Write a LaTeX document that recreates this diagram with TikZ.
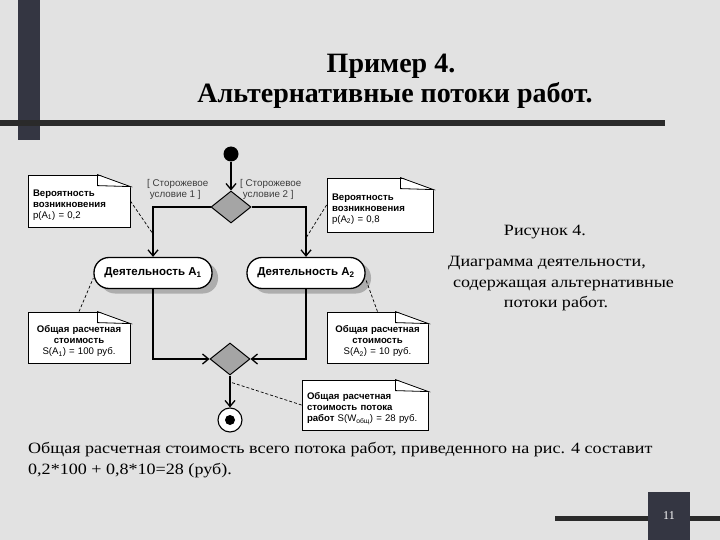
\documentclass[tikz,border=0pt]{standalone}
\usepackage{fontspec}
\setmainfont{Liberation Serif}
\newfontfamily\diagfont{Liberation Sans}
\newfontfamily\bodyfont[FakeStretch=1.15]{Liberation Serif}
\usetikzlibrary{arrows.meta,shapes.geometric,shadows,positioning}
\definecolor{slidebg}{RGB}{226,226,226}
\definecolor{bardark}{RGB}{52,54,66}
\definecolor{linedark}{RGB}{42,42,42}
\definecolor{guardgray}{RGB}{60,60,60}
\definecolor{choicegray}{RGB}{165,165,165}
\newcommand\memogap{\rule{0pt}{14pt}}
\newcommand\dogear[1]{%
  \fill[slidebg] ([xshift=-34pt,yshift=1pt]#1.north east) -- ([xshift=1pt,yshift=1pt]#1.north east)
    -- ([xshift=1pt,yshift=-13pt]#1.north east) -- cycle;
  \draw[line width=0.8pt] ([xshift=-33pt]#1.north east) -- ([yshift=-12pt]#1.north east)
    -- ([xshift=-33pt,yshift=-11pt]#1.north east) -- cycle;}

\begin{document}
\begin{tikzpicture}[x=1pt,y=-1pt,
  flow/.style={line width=1.3pt,-{Straight Barb[length=6pt,width=10pt]}},
  link/.style={line width=0.7pt,dash pattern=on 3pt off 2pt},
  activity/.style={draw,line width=1.3pt,fill=white,rounded corners=15pt,
    minimum width=118pt,minimum height=31pt,font=\diagfont\bfseries\fontsize{11.5}{13}\selectfont,
    drop shadow={shadow xshift=6pt,shadow yshift=-5pt,fill=black!32,opacity=1}},
  choice/.style={diamond,draw,line width=1pt,fill=choicegray,minimum width=40pt,minimum height=32pt,inner sep=0pt},
  guard/.style={text=guardgray,align=left,inner sep=0pt,font=\diagfont\fontsize{9.8}{11.5}\selectfont},
  memo/.style={draw,fill=white,line width=0.8pt,inner xsep=5pt,font=\diagfont\bfseries\fontsize{9.6}{11}\selectfont},
  caption/.style={inner sep=0pt,font=\bodyfont\fontsize{15.7}{19}\selectfont}]
  \useasboundingbox (0,0) rectangle (720,540);

  % slide
  \fill[slidebg] (0,0) rectangle (720,540);
  \fill[bardark] (18,0) rectangle (40,140);
  \fill[linedark] (0,120) rectangle (665,126);
  \node[anchor=base,font=\bfseries\fontsize{28}{30}\selectfont] (title1) at (391,73) {Пример 4.};
  \node[anchor=base,font=\bfseries\fontsize{28}{30}\selectfont] (title2) at (395,103) {Альтернативные потоки работ.};

  % activity diagram
  \node[circle,fill=black,minimum size=15pt,inner sep=0pt] (start) at (231,154) {};
  \node[choice] (split) at (231,207) {};
  \node[activity] (actA) at (153,273) {Деятельность A\textsubscript{1}};
  \node[activity] (actB) at (306,273) {Деятельность A\textsubscript{2}};
  \node[choice] (merge) at (230,359) {};
  \node[circle,draw,line width=1.1pt,fill=white,minimum size=24pt,inner sep=0pt] (stop) at (230,420) {};
  \node[circle,fill=black,minimum size=10pt,inner sep=0pt] (stopdot) at (stop) {};

  \node[guard,anchor=north west] (guardA) at (147,179) {[ Сторожевое\\\hphantom{[}условие 1 ]};
  \node[guard,anchor=north west] (guardB) at (240,179) {[ Сторожевое\\\hphantom{[}условие 2 ]};

  \draw[flow] (start) -- (split);
  \draw[flow] (split.west) -| (actA);
  \draw[flow] (split.east) -| (actB);
  \draw[flow] (actA) |- (merge.west);
  \draw[flow] (actB) |- (merge.east);
  \draw[flow] (merge) -- (stop);

  % notes
  \node[memo,text width=92pt,minimum height=52pt,align=left] (probA) at (79,201)
    {\memogap Вероятность\\возникновения\\\mdseries p(A\textsubscript{1}) = 0,2};
  \node[memo,text width=96pt,minimum height=54pt,align=left] (probB) at (380,205)
    {\memogap Вероятность\\возникновения\\\mdseries p(A\textsubscript{2}) = 0,8};
  \node[memo,text width=92pt,minimum height=51pt,align=center] (costA) at (79,337.5)
    {\memogap Общая расчетная\\стоимость\\\mdseries S(A\textsubscript{1}) = 100 руб.};
  \node[memo,text width=91pt,minimum height=51pt,align=center] (costB) at (377.5,337.5)
    {\memogap Общая расчетная\\стоимость\\\mdseries S(A\textsubscript{2}) = 10 руб.};
  \node[memo,text width=116pt,minimum height=50pt,align=left] (costW) at (365,405)
    {\memogap Общая расчетная\\стоимость потока\\работ \mdseries S(W\textsubscript{общ}) = 28 руб.};
  \dogear{probA}
  \dogear{probB}
  \dogear{costA}
  \dogear{costB}
  \dogear{costW}

  \coordinate (onA) at (153,234);
  \coordinate (onB) at (306,238);
  \coordinate (onW) at (230,382);
  \draw[link] (probA.east) -- (onA);
  \draw[link] (probB.west) -- (onB);
  \draw[link] (costA.north) -- ([yshift=-5pt]actA.west);
  \draw[link] (costB.north) -- ([yshift=-6pt]actB.east);
  \draw[link] (costW.west) -- (onW);

  % captions
  \node[caption,anchor=base] (fig) at (545,236) {Рисунок 4.};
  \node[caption,anchor=base west] (cap1) at (448,266) {Диаграмма деятельности,};
  \node[caption,anchor=base west] (cap2) at (453,287) {содержащая альтернативные};
  \node[caption,anchor=base] (cap3) at (556,307) {потоки работ.};
  \node[caption,anchor=base west] (sum1) at (28,453)
    {Общая расчетная стоимость всего потока работ, приведенного на рис. 4 составит};
  \node[caption,anchor=base west] (sum2) at (28,474) {0,2*100 + 0,8*10=28 (руб).};

  % page number
  \fill[linedark] (555,516) rectangle (720,521);
  \fill[bardark] (648,492) rectangle (690,540);
  \node[text=white,font=\fontsize{12}{14}\selectfont] (pageno) at (669,516) {11};
\end{tikzpicture}
\end{document}
